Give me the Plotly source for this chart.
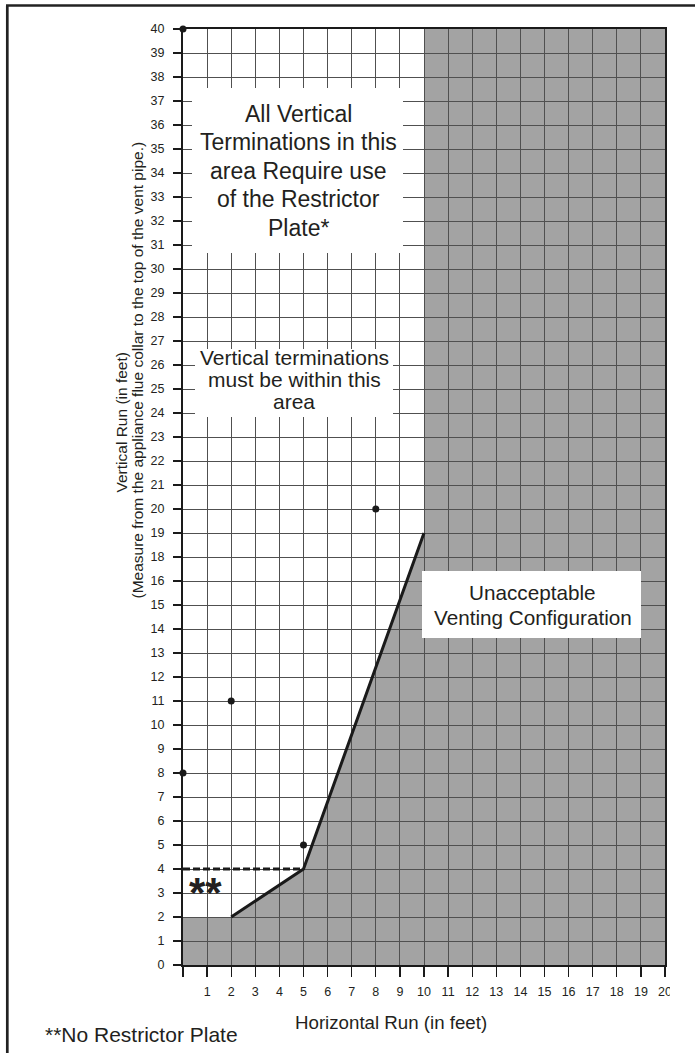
import plotly.graph_objects as go

# ---------------- data ----------------
X_TICKS = [0, 1, 2, 3, 4, 5, 6, 7, 8, 9, 10, 11, 12, 13, 14, 15, 16, 17, 18, 19, 20]
X_TICK_TEXT = ["", "1", "2", "3", "4", "5", "6", "7", "8", "9", "10", "11", "12",
               "13", "14", "15", "16", "17", "18", "19", "20"]
# the vertical scale of the original skips the label 17
Y_TICK_LABELS = [0, 1, 2, 3, 4, 5, 6, 7, 8, 9, 10, 11, 12, 13, 14, 15, 16,
                 18, 19, 20, 21, 22, 23, 24, 25, 26, 27, 28, 29, 30, 31, 32, 33,
                 34, 35, 36, 37, 38, 39, 40]

# boundary of the "unacceptable" shaded region (horizontal ft, vertical ft)
REGION_X = [0, 0, 2, 5, 10, 10, 20, 20]
REGION_Y = [0, 2, 2, 4, 19, 40, 40, 0]

# solid limit line
LIMIT_X = [2, 5, 10]
LIMIT_Y = [2, 4, 19]

# dashed "no restrictor plate" line
DASH_X = [0, 5]
DASH_Y = [4, 4]

# reference dots
DOT_X = [0, 0, 2, 5, 8]
DOT_Y = [40, 8, 11, 5, 20]


def ypos(v):
    """Position of a labelled vertical value on the (label-skipping) grid."""
    return Y_TICK_LABELS.index(v)


# pixel helpers for layout-only positions (plot area: x 183..665, y 29..965)
def px(xp):
    return (xp - 183) / 482.0


def py(yp):
    return (965 - yp) / 936.0


FONT = "Liberation Sans, Arial, sans-serif"
INK = "#231f20"
GRID = "#505050"
SHADE = "#a3a3a3"

fig = go.Figure()

fig.add_trace(go.Scatter(
    x=DASH_X, y=[ypos(v) for v in DASH_Y], mode="lines",
    line=dict(color="#1a1a1a", width=2.8, dash="7px,3px"),
    hoverinfo="skip", cliponaxis=False))

fig.add_trace(go.Scatter(
    x=LIMIT_X, y=[ypos(v) for v in LIMIT_Y], mode="lines",
    line=dict(color="#1a1a1a", width=3),
    hoverinfo="skip"))

fig.add_trace(go.Scatter(
    x=DOT_X, y=[ypos(v) for v in DOT_Y], mode="markers",
    marker=dict(color="#1a1a1a", size=7),
    hoverinfo="skip", cliponaxis=False))

shapes = []

# shaded region, drawn below the grid so grid lines show through
path = "M " + " L ".join(f"{x},{ypos(y)}" for x, y in zip(REGION_X, REGION_Y)) + " Z"
shapes.append(dict(type="path", path=path, xref="x", yref="y",
                   fillcolor=SHADE, line=dict(width=0), layer="below"))

# white label boxes (cover grid lines)
for (x0, x1, y0, y1) in [(192, 403, 88, 253), (195, 393, 349, 417), (422, 641, 571, 638)]:
    shapes.append(dict(type="rect", xref="paper", yref="paper",
                       x0=px(x0), x1=px(x1), y0=py(y1), y1=py(y0),
                       fillcolor="white", line=dict(width=0), layer="above"))

# clip of the last tick label at the page edge
shapes.append(dict(type="rect", xref="paper", yref="paper",
                   x0=px(670), x1=px(720), y0=py(1002), y1=py(977),
                   fillcolor="white", line=dict(width=0), layer="above"))

# outer page frame (left and top)
shapes.append(dict(type="line", xref="paper", yref="paper",
                   x0=px(7.3), x1=px(7.3), y0=py(1070), y1=py(5.5),
                   line=dict(color="#222222", width=2.7), layer="above"))
shapes.append(dict(type="line", xref="paper", yref="paper",
                   x0=px(6), x1=px(720), y0=py(5.5), y1=py(5.5),
                   line=dict(color="#222222", width=2.7), layer="above"))

annotations = []


def text(t, xc, yc, size, angle=0, bold=False):
    annotations.append(dict(
        text=f"<b>{t}</b>" if bold else t,
        x=px(xc), y=py(yc), xref="paper", yref="paper",
        xanchor="center", yanchor="middle", showarrow=False,
        textangle=angle, font=dict(family=FONT, size=size, color=INK)))


box1 = ["All Vertical", "Terminations in this", "area Require use",
        "of the Restrictor", "Plate*"]
for i, t in enumerate(box1):
    text(t, 298, 113.5 + i * 28.6, 23)

box2 = ["Vertical terminations", "must be within this", "area"]
for i, t in enumerate(box2):
    text(t, 294, 357.5 + i * 22, 21)

box3 = ["Unacceptable", "Venting Configuration"]
for i, t in enumerate(box3):
    text(t, 532.5, 592.5 + i * 25, 20.7)

text("**", 205, 892, 42, bold=True)
text("**No Restrictor Plate", 141.5, 1034, 21)
text("Horizontal Run (in feet)", 390.5, 1022.5, 18.7)
text("Vertical Run (in feet)", 121, 422.5, 15.5, angle=-90)
text("(Measure from the appliance flue collar to the top of the vent pipe.)",
     136.5, 370, 15.5, angle=-90)

axis_common = dict(
    showgrid=True, gridcolor=GRID, gridwidth=1,
    showline=True, linecolor="#1a1a1a", linewidth=2, mirror=True,
    zeroline=False, ticks="outside", tickcolor="#1a1a1a", tickwidth=1.3,
    tickfont=dict(family=FONT, size=12.5, color=INK),
    fixedrange=True,
)

fig.update_layout(
    width=695, height=1053,
    margin=dict(l=183, r=30, t=29, b=88, pad=0),
    paper_bgcolor="white", plot_bgcolor="white",
    showlegend=False,
    xaxis=dict(range=[0, 20], tickmode="array", tickvals=X_TICKS,
               ticktext=X_TICK_TEXT, ticklen=10, ticklabelstandoff=4,
               **axis_common),
    yaxis=dict(range=[0, len(Y_TICK_LABELS) - 1], tickmode="array",
               tickvals=list(range(len(Y_TICK_LABELS))),
               ticktext=[str(v) for v in Y_TICK_LABELS], ticklen=8,
               ticklabelstandoff=6, **axis_common),
    shapes=shapes,
    annotations=annotations,
)

fig.write_html("out.html",
               config={"displayModeBar": False, "staticPlot": True},
               post_script="document.body.style.margin='0px';"
                           "document.body.style.overflow='hidden';")
